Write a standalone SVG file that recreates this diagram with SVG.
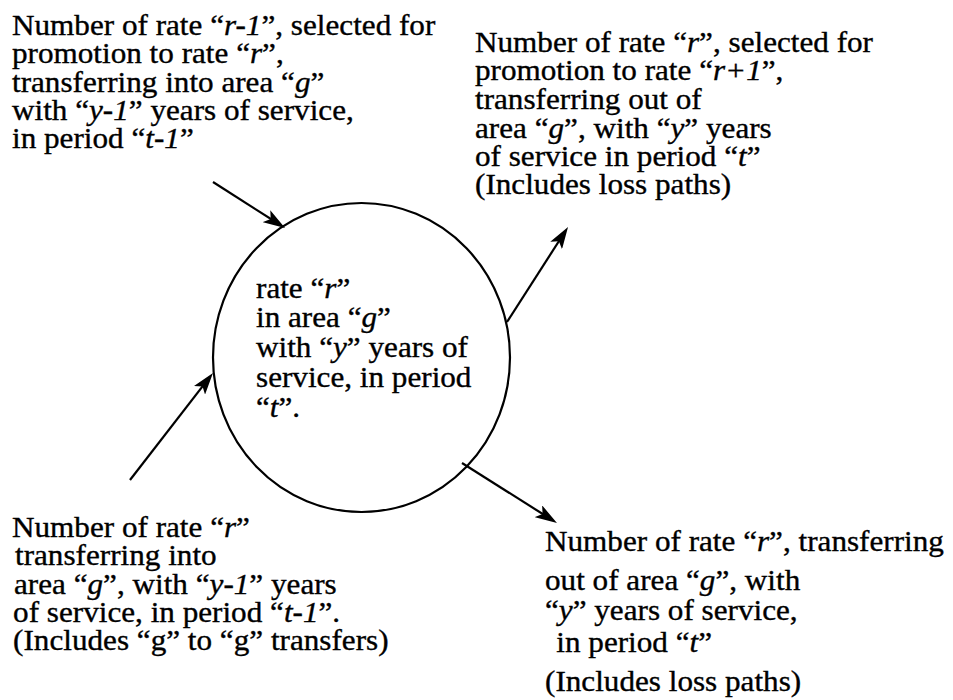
<svg xmlns="http://www.w3.org/2000/svg" width="953" height="700" viewBox="0 0 953 700">
  <style>
    .lbl { font-family: "Liberation Serif", "Times New Roman", serif; font-size: 29px; fill: #000; stroke: #000; stroke-width: 0.35; }
    .v { font-style: italic; }
    .edge { stroke: #000; stroke-width: 2.2; fill: none; marker-end: url(#head); }
    .node { stroke: #000; stroke-width: 2.2; fill: none; }
  </style>
  <defs>
    <marker id="head" viewBox="0 0 22 14" refX="16" refY="7" markerWidth="22" markerHeight="14" markerUnits="userSpaceOnUse" orient="auto">
      <path d="M0,0 L22,7 L0,14 L5,7 z" fill="#000"/>
    </marker>
  </defs>

  <rect width="953" height="700" fill="#fff"/>

  <!-- central state: rate r, area g, years y, period t -->
  <g id="state">
    <ellipse class="node" cx="361.5" cy="357.5" rx="148.5" ry="154.5"/>
    <g transform="translate(256 0) scale(1.075 1)">
      <text class="lbl" x="0" y="298">rate “<tspan class="v">r</tspan>”</text>
      <text class="lbl" x="0" y="327">in area “<tspan class="v">g</tspan>”</text>
      <text class="lbl" x="0" y="357">with “<tspan class="v">y</tspan>” years of</text>
      <text class="lbl" x="0" y="387">service, in period</text>
      <text class="lbl" x="0" y="417">“<tspan class="v">t</tspan>”.</text>
    </g>
  </g>

  <!-- inflow: promotions from rate r-1 -->
  <g id="promo-in" transform="translate(12 0) scale(1.075 1)">
    <text class="lbl" x="0" y="35">Number of rate “<tspan class="v">r-1</tspan>”, selected for</text>
    <text class="lbl" x="0" y="63">promotion to rate “<tspan class="v">r</tspan>”,</text>
    <text class="lbl" x="0" y="92">transferring into area “<tspan class="v">g</tspan>”</text>
    <text class="lbl" x="0" y="120">with “<tspan class="v">y-1</tspan>” years of service,</text>
    <text class="lbl" x="0" y="148">in period “<tspan class="v">t-1</tspan>”</text>
  </g>

  <!-- outflow: promotions to rate r+1 -->
  <g id="promo-out" transform="translate(475 0) scale(1.075 1)">
    <text class="lbl" x="0" y="52">Number of rate “<tspan class="v">r</tspan>”, selected for</text>
    <text class="lbl" x="0" y="80">promotion to rate “<tspan class="v">r+1</tspan>”,</text>
    <text class="lbl" x="0" y="109">transferring out of</text>
    <text class="lbl" x="0" y="138">area “<tspan class="v">g</tspan>”, with “<tspan class="v">y</tspan>” years</text>
    <text class="lbl" x="0" y="166">of service in period “<tspan class="v">t</tspan>”</text>
    <text class="lbl" x="0" y="194">(Includes loss paths)</text>
  </g>

  <!-- inflow: lateral transfers of rate r -->
  <g id="transfer-in" transform="translate(12 0) scale(1.075 1)">
    <text class="lbl" x="0" y="537">Number of rate “<tspan class="v">r</tspan>”</text>
    <text class="lbl" x="2.8" y="565">transferring into</text>
    <text class="lbl" x="1.9" y="594">area “<tspan class="v">g</tspan>”, with “<tspan class="v">y-1</tspan>” years</text>
    <text class="lbl" x="1" y="622">of service, in period “<tspan class="v">t-1</tspan>”.</text>
    <text class="lbl" x="1" y="650">(Includes “g” to “g” transfers)</text>
  </g>

  <!-- outflow: lateral transfers of rate r -->
  <g id="transfer-out" transform="translate(545 0) scale(1.075 1)">
    <text class="lbl" x="0" y="551">Number of rate “<tspan class="v">r</tspan>”, transferring</text>
    <text class="lbl" x="0" y="590">out of area “<tspan class="v">g</tspan>”, with</text>
    <text class="lbl" x="0" y="620">“<tspan class="v">y</tspan>” years of service,</text>
    <text class="lbl" x="10.5" y="652">in period “<tspan class="v">t</tspan>”</text>
    <text class="lbl" x="0" y="691">(Includes loss paths)</text>
  </g>

  <g id="connectors">
    <line class="edge" x1="213" y1="182" x2="280" y2="224.8"/>
    <line class="edge" x1="507" y1="322" x2="564.8" y2="232"/>
    <line class="edge" x1="130" y1="480" x2="209.3" y2="377.7"/>
    <line class="edge" x1="462" y1="463" x2="551.9" y2="519.8"/>
  </g>
</svg>
